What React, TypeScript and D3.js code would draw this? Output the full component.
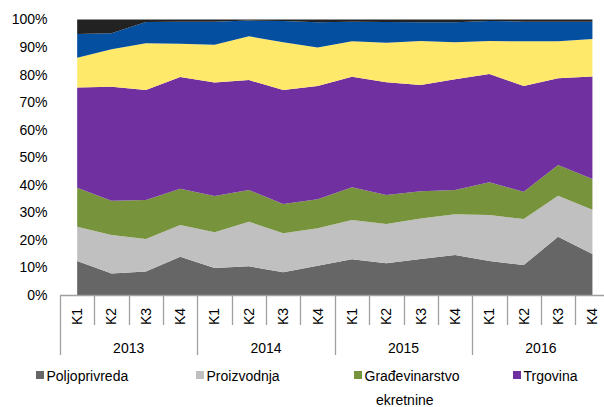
import React from 'react';
import * as d3 from 'd3';

// quarters and years on the category axis
const years = ['2013', '2014', '2015', '2016'];
const quarters = ['K1', 'K2', 'K3', 'K4'];
const categories = years.flatMap(y => quarters.map(q => `${y} ${q}`));

// shares in %, bottom to top
const poljoprivreda = [12.3, 7.8, 8.5, 13.9, 9.8, 10.4, 8.3, 10.6, 13.0, 11.5, 13.1, 14.5, 12.3, 10.9, 21.1, 14.9];
const proizvodnja = [12.5, 14.0, 11.8, 11.5, 13.0, 16.2, 14.1, 13.6, 14.2, 14.3, 14.7, 14.8, 16.7, 16.7, 14.9, 16.0];
const gradjevinarstvo = [14.1, 12.4, 14.2, 13.2, 13.1, 11.5, 10.6, 10.6, 11.9, 10.5, 9.9, 8.8, 11.9, 9.9, 11.2, 11.2];
const trgovina = [36.4, 41.4, 39.9, 40.5, 41.2, 39.9, 41.4, 41.1, 40.1, 40.9, 38.5, 40.2, 39.3, 38.4, 31.5, 37.2];
const nekretnine = [10.8, 13.6, 17.0, 12.1, 13.7, 15.9, 17.3, 13.9, 12.9, 14.4, 16.0, 13.4, 12.0, 16.2, 13.4, 13.6];
const usluge = [8.6, 5.8, 7.7, 8.0, 8.4, 5.7, 7.8, 9.2, 7.1, 7.5, 6.8, 7.3, 7.3, 7.1, 7.1, 6.3];
const ostalo = [5.3, 5.0, 0.9, 0.8, 0.8, 0.4, 0.5, 1.0, 0.8, 0.9, 1.0, 1.0, 0.5, 0.8, 0.8, 0.8];

const yTicks = [0, 0.1, 0.2, 0.3, 0.4, 0.5, 0.6, 0.7, 0.8, 0.9, 1];

const series = [
  { key: 'Poljoprivreda', values: poljoprivreda, color: '#666666' },
  { key: 'Proizvodnja', values: proizvodnja, color: '#C0C0C0' },
  { key: 'Građevinarstvo', values: gradjevinarstvo, color: '#77933C' },
  { key: 'Trgovina', values: trgovina, color: '#7030A0' },
  { key: 'Nekretnine', values: nekretnine, color: '#FEE96B' },
  { key: 'Usluge', values: usluge, color: '#054FA0' },
  { key: 'Ostalo', values: ostalo, color: '#222222' },
];

const legendItems = ['Poljoprivreda', 'Proizvodnja', 'Građevinarstvo', 'Trgovina'];

const font = '"Liberation Sans", Arial, sans-serif';
const axisColor = '#A0A0A0';

export default function App() {
  const width = 604;
  const height = 407;
  const x0 = 60;
  const step = 34.35;
  const axisY = 295;

  const x = d3.scaleBand().domain(categories).range([x0, x0 + step * categories.length]).padding(0);
  const y = d3.scaleLinear().domain([0, 1]).range([axisY, 19.5]);
  const cx = (c: string) => (x(c) as number) + x.bandwidth() / 2;

  const table = categories.map((c, i) => {
    const row: Record<string, any> = { cat: c };
    series.forEach(s => { row[s.key] = s.values[i]; });
    return row;
  });

  const stacked = d3.stack<any>()
    .keys(series.map(s => s.key))
    .offset(d3.stackOffsetExpand)(table);

  const area = d3.area<any>()
    .x(d => cx(d.data.cat))
    .y0(d => y(d[0]))
    .y1(d => y(d[1]));

  const legendX = [36, 196, 354, 513];

  return (
    <svg width={width} height={height} style={{ position: 'absolute', left: 0, top: 0, display: 'block' }}
      fontFamily={font}>
      <rect width={width} height={height} fill="#fff" />
      {stacked.map((layer, i) => (
        <path key={layer.key} d={area(layer) as string} fill={series[i].color} />
      ))}

      {yTicks.map(t => (
        <text key={t} x={47.5} y={y(t)} dy="0.35em" textAnchor="end" fontSize={14} fill="#000">
          {d3.format('.0%')(t)}
        </text>
      ))}

      <line x1={x0} x2={width} y1={axisY + 0.5} y2={axisY + 0.5} stroke={axisColor} strokeWidth={1.3} />
      {d3.range(categories.length + 1).map(i => {
        const tx = Math.round(x0 + i * x.bandwidth()) + 0.5;
        const long = i % 4 === 0;
        return (
          <line key={i} x1={tx} x2={tx} y1={axisY} y2={long ? 355 : 325} stroke={axisColor} strokeWidth={1.3} />
        );
      })}

      {categories.map((c, i) => (
        <text key={c} transform={`translate(${cx(c)},316.5) rotate(-90)`} textAnchor="middle" dy="0.35em"
          fontSize={14} fill="#000">
          {quarters[i % 4]}
        </text>
      ))}

      {years.map((yr, i) => (
        <text key={yr} x={(cx(categories[i * 4]) + cx(categories[i * 4 + 3])) / 2} y={352.5} textAnchor="middle"
          fontSize={14} fill="#000">
          {yr}
        </text>
      ))}

      {legendItems.map((name, i) => {
        const s = series.find(d => d.key === name)!;
        return (
          <g key={name} transform={`translate(${legendX[i]},0)`}>
            <rect x={0} y={371} width={8} height={8} fill={s.color} />
            <text x={10.5} y={380.5} fontSize={14} fill="#000">{name}</text>
          </g>
        );
      })}
      <text x={376} y={405} fontSize={14} fill="#000">ekretnine</text>
    </svg>
  );
}
